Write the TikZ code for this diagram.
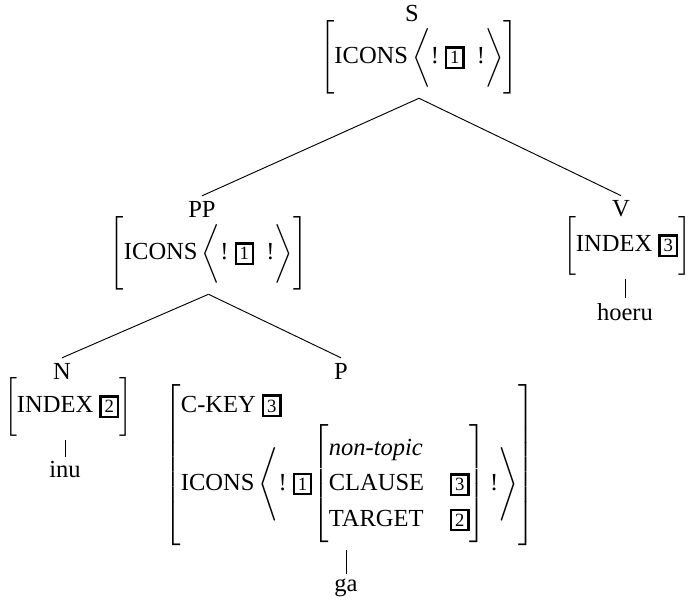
\documentclass[tikz,border=0pt]{standalone}
\usepackage{amsmath}
\usepackage{amssymb}
\usepackage{fontspec}
\setmainfont{Liberation Serif}
\usepackage{tikz}
\usetikzlibrary{positioning}

\renewcommand{\arraystretch}{1.2}
\delimiterfactor=1000
\delimitershortfall=0pt
\newcommand{\tagnum}[1]{{\setlength{\fboxsep}{1.2pt}\setlength{\fboxrule}{1pt}\fbox{\footnotesize #1}}}

\begin{document}
\begin{tikzpicture}[x=0.428pt, y=-0.428pt, every node/.style={inner sep=2pt, font=\fontsize{10.5pt}{12.6pt}\selectfont}, avm/.style={inner sep=1.5pt}]
\useasboundingbox (0,0) rectangle (689,607);

% Etykiety kategorii
\foreach \n/\x/\y in {S/412/14, PP/202/209, V/621/209, N/62/371, P/341/371} {
  \node (\n) at (\x,\y) {\n};
}

% Macierze cech
\node[avm] (avmS) at (419,57.5) {$\biggl[\text{ICONS}\,\Bigl\langle\text{!}\ \tagnum{1}\ \ \text{!}\Bigr\rangle\biggr]$};
\node[avm] (avmPP) at (208.5,253.5) {$\biggl[\text{ICONS}\,\Bigl\langle\text{!}\ \tagnum{1}\ \ \text{!}\Bigr\rangle\biggr]$};
\node[avm] (avmV) at (627,245.5) {$\Bigl[\text{INDEX}\ \tagnum{3}\Bigr]$};
\node[avm] (avmN) at (68,406.5) {$\Bigl[\text{INDEX}\ \tagnum{2}\Bigr]$};
\node[avm] (avmP) at (349.5,465) {$\left[\begin{array}{@{}l@{}}
  \text{C-KEY}\ \tagnum{3}\\[1pt]
  \text{ICONS}\left\langle\text{!}\ \tagnum{1}\!\left[\begin{array}{@{}l@{\hspace{11pt}}l@{}}
    \textit{non-topic} & \\
    \text{CLAUSE} & \tagnum{3}\\
    \text{TARGET} & \tagnum{2}
  \end{array}\right]\text{!}\right\rangle
\end{array}\right]$};

% Liscie
\foreach \n/\x/\y in {hoeru/625/312, inu/65/470, ga/346/588} {
  \node (\n) at (\x,\y) {\n};
}

% Krawedzie drzewa
\foreach \a/\b in {avmS/PP, avmS/V, avmPP/N, avmPP/P} {
  \draw (\a.south) -- (\b.north);
}
\foreach \a/\b in {avmV/hoeru, avmN/inu, avmP/ga} {
  \draw (\b.north |- \a.south) -- (\b.north);
}
\end{tikzpicture}
\end{document}
